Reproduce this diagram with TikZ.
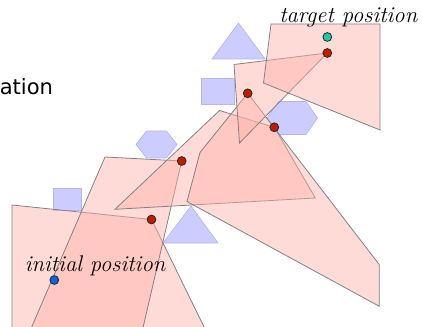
\documentclass[tikz,border=0pt]{standalone}
\usepackage{fontspec}
\usepackage{xcolor}
\usepackage{tikz}
\newfontfamily\slidefont{DejaVu Sans}
\definecolor{obstfill}{RGB}{204,204,255}
\definecolor{obstline}{RGB}{182,182,236}
\definecolor{robfill}{RGB}{255,176,168}
\definecolor{robline}{RGB}{130,130,130}
\definecolor{dotred}{RGB}{190,30,0}
\definecolor{dotteal}{RGB}{30,200,160}
\definecolor{dotblue}{RGB}{16,96,224}
\tikzset{
  obstacle/.style={fill=obstfill,draw=obstline,line width=0.5pt},
  robot/.style={fill=robfill,fill opacity=0.45,draw=robline,draw opacity=1,line width=0.6pt},
  confdot/.style={circle,inner sep=0pt,minimum size=6.6pt,draw=black!85,line width=0.6pt},
  handlabel/.style={font=\fontsize{17}{19}\selectfont\itshape,inner sep=0pt,anchor=base west}
}

\begin{document}
\begin{tikzpicture}[x=0.75pt,y=0.75pt,yscale=-1,xscale=1]
\useasboundingbox (0,0) rectangle (423,327);

\node[font=\slidefont\fontsize{15.8}{18}\selectfont,inner sep=0pt,anchor=base west] (title) at (-0.5,95) {ation};


\draw[obstacle] (212,59) -- (265,59) -- (238.5,23) -- cycle;

\draw[obstacle] (201,78) rectangle (234,104);

\draw[obstacle] (136,144.5) -- (146.5,131) -- (166.5,131) -- (177,144.5) -- (166.5,158) -- (146.5,158) -- cycle;

\draw[obstacle] (267,118) -- (278.5,101.5) -- (306,101.5) -- (317.5,118) -- (306,134.5) -- (278.5,134.5) -- cycle;

\draw[obstacle] (53,188) rectangle (81,210);

\draw[obstacle] (163,243) -- (218,243) -- (191,206) -- cycle;


\draw[robot] (12,205) -- (151.5,219.5) -- (206.5,332) -- (12,332) -- cycle;

\draw[robot] (105,157) -- (181.7,161) -- (142,332) -- (29.5,332) -- cycle;

\draw[robot] (115,209.3) -- (219.5,110.5) -- (274.3,127.3) -- (315.3,198) -- cycle;

\draw[robot] (187,201.5) -- (200,152.5) -- (247.7,93.3) -- (379.3,264.7) -- (379.3,306.3) -- cycle;

\draw[robot] (234,64.5) -- (327.3,53) -- (239.5,143) -- cycle;

\draw[robot] (271,24) -- (380,24) -- (380,130) -- (263.5,83) -- cycle;


\node[confdot,fill=dotblue] (start) at (54.3,280) {};
\node[confdot,fill=dotred] (q1) at (151.5,219.5) {};
\node[confdot,fill=dotred] (q2) at (181.7,161) {};
\node[confdot,fill=dotred] (q3) at (247.7,93.3) {};
\node[confdot,fill=dotred] (q4) at (274.3,127.3) {};
\node[confdot,fill=dotred] (q5) at (327.3,53) {};
\node[confdot,fill=dotteal] (goal) at (327.3,37) {};

\node[handlabel] (startlabel) at (24.5,271) {initial position};
\node[handlabel] (goallabel) at (279,23) {target position};

\end{tikzpicture}
\end{document}
